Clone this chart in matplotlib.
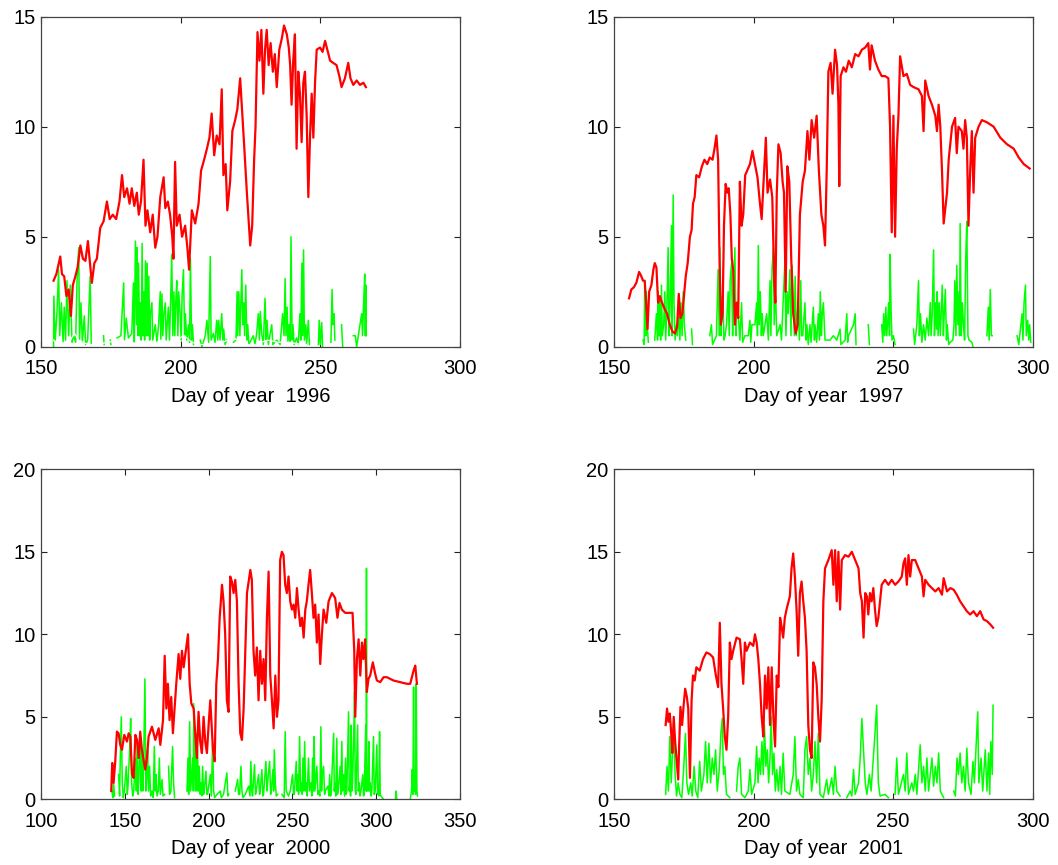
import matplotlib
matplotlib.use("Agg")
import matplotlib.pyplot as plt
import numpy as np

plt.rcParams['font.family'] = ['Liberation Sans', 'DejaVu Sans']

years = ["1996", "1997", "2000", "2001"]

# ---------------- 1996 ----------------
red_day_1996 = [154.5,155.5,156.9,157.5,158.3,159.1,159.9,160.7,161.4,162.3,163.1,164.1,165.0,165.9,166.8,167.4,168.2,169.1,170.0,171.2,172.4,173.6,174.6,175.7,176.9,178.1,179.0,179.8,180.8,181.7,182.5,183.4,184.3,185.0,185.8,186.7,187.4,188.1,189.1,190.0,190.9,191.7,192.7,193.9,194.5,195.4,196.2,197.0,197.4,198.0,198.6,199.6,200.5,201.6,202.4,203.0,204.0,205.2,206.4,207.3,208.4,209.4,210.3,211.1,212.0,212.9,213.9,214.7,215.3,216.1,216.7,217.7,218.5,219.5,220.3,221.3,222.1,222.8,223.7,224.3,224.9,225.6,226.3,226.8,227.5,228.2,228.9,229.6,230.2,230.8,231.5,232.2,233.0,233.7,234.4,235.3,236.2,237.0,238.0,238.7,239.2,239.7,240.3,240.9,241.5,242.1,242.7,243.3,243.9,244.5,245.1,245.7,246.3,246.9,247.5,248.1,248.7,249.9,250.8,251.7,252.5,253.5,254.6,255.8,256.8,257.6,258.8,260.0,260.8,261.8,263.0,264.2,265.4,266.3]
red_val_1996 = [3.0,3.3,4.1,3.3,3.2,2.3,2.6,1.4,2.8,3.2,3.6,4.6,4.0,3.9,4.8,4.0,2.9,3.8,4.0,5.4,5.7,6.6,5.8,6.0,5.8,6.6,7.8,6.8,7.2,6.5,7.2,6.4,7.0,6.0,6.6,8.5,5.5,6.2,5.2,6.0,4.5,5.0,6.8,7.7,6.3,6.6,6.0,5.0,4.0,8.4,5.5,6.0,5.0,5.5,4.5,3.5,6.2,5.6,6.5,8.0,8.5,9.0,9.5,10.6,8.7,9.6,9.2,11.7,7.8,8.3,6.2,7.5,9.8,10.3,10.8,12.2,10.5,9.0,7.0,5.8,4.6,5.5,8.5,10.0,14.3,13.0,14.4,11.5,13.5,14.4,12.8,13.8,12.5,13.3,11.8,13.5,14.0,14.6,14.2,13.6,12.8,11.0,13.0,14.2,9.0,12.5,11.5,9.3,12.0,12.5,10.5,6.8,9.5,11.5,9.5,12.0,13.5,13.6,13.4,13.9,13.5,13.0,12.9,12.8,12.3,11.8,12.2,12.9,12.2,11.9,12.1,11.9,12.0,11.8]
green_day_1996 = [154.5,154.6,155.1,155.7,156.3,156.7,157.3,157.9,158.3,158.8,159.3,159.9,160.5,161.1,161.7,162.4,162.9,163.5,163.8,164.3,164.8,165.5,166.0,166.7,167.6,168.0,172.4,172.6,174.8,175.0,177.2,178.6,179.6,179.9,180.5,181.3,182.5,183.1,183.4,183.8,184.2,184.4,184.7,184.9,185.3,185.6,185.9,186.2,186.5,186.8,187.1,187.4,187.7,188.0,188.3,188.6,188.9,189.2,189.7,190.0,190.9,191.5,192.1,192.7,192.9,193.3,193.6,194.0,194.5,194.8,195.6,196.0,196.4,196.8,197.2,197.6,197.9,198.3,198.6,199.0,199.3,199.8,200.2,200.5,201.0,201.4,201.7,202.2,202.8,203.2,203.5,203.9,204.2,204.6,207.0,207.6,208.8,209.4,210.0,210.6,210.9,211.7,212.3,212.9,213.3,213.6,214.1,214.7,215.1,215.4,215.9,216.5,218.9,219.8,220.2,220.4,220.8,221.2,221.9,222.2,222.6,222.9,223.3,223.7,224.0,224.4,226.0,226.6,227.2,227.8,228.2,228.5,229.0,229.6,230.2,230.6,230.9,231.4,232.6,233.0,234.4,235.6,236.5,237.0,237.4,237.7,238.1,238.4,238.8,239.2,239.5,239.9,240.2,240.6,241.5,242.1,242.7,243.0,243.4,243.7,244.0,244.3,244.8,245.1,245.7,246.1,249.3,249.6,250.0,250.5,250.8,253.8,254.2,254.5,254.9,255.2,257.6,258.0,261.8,262.5,263.0,264.8,265.1,265.5,265.9,266.1,266.3,266.4]
green_val_1996 = [0.0,2.3,0.3,1.5,3.5,0.5,2.0,0.2,1.8,0.3,3.0,0.5,2.8,0.2,0.5,0.2,3.0,4.5,0.3,2.0,0.2,1.4,0.1,0.3,3.2,0.1,0.5,0.1,0.3,0.1,0.4,0.5,2.9,0.3,1.3,0.4,0.6,2.9,0.2,4.8,1.0,4.5,0.5,3.8,0.5,2.0,0.3,4.7,0.5,2.5,0.3,3.9,0.5,3.8,0.5,3.2,0.3,1.5,2.0,0.3,1.0,0.2,1.0,2.5,0.3,2.4,0.5,1.5,2.0,0.3,1.8,0.3,2.0,4.2,0.5,2.5,0.5,2.2,3.0,0.5,2.5,1.5,0.3,2.3,3.5,0.5,1.5,0.3,1.0,0.2,4.0,0.3,1.0,0.1,0.3,0.0,0.5,1.2,0.2,4.1,0.3,0.6,0.2,1.2,0.3,1.2,0.3,1.5,0.3,0.8,0.1,0.3,0.2,0.3,2.5,0.5,2.5,0.5,3.5,1.0,2.0,0.5,2.8,0.3,1.0,0.1,0.5,0.1,0.6,1.5,0.3,1.6,0.6,0.1,2.2,0.3,1.2,0.1,1.0,0.1,0.3,0.1,1.5,0.5,3.1,0.5,1.8,0.2,1.0,0.2,5.0,0.3,1.0,0.1,0.4,0.1,1.5,0.3,3.8,0.5,4.4,0.3,1.0,0.1,1.2,0.1,0.1,1.2,0.1,1.1,0.0,0.2,2.6,1.0,1.5,0.3,1.0,0.0,0.5,0.5,0.0,1.5,0.5,2.0,3.3,0.5,2.8,0.5]
white_day_1996 = [154.5,156.0,157.5,159.0,160.5,162.0,163.5,165.0,167.0,170.0,174.0,178.0,182.0,186.0,190.0,193.0,195.5,198.0,201.3,204.0,207.0,211.0,215.0,219.0,223.0,227.0,231.0,235.0,239.0,243.0,245.0]
white_val_1996 = [0.3,0.1,0.2,0.1,0.3,0.6,0.3,0.2,0.1,0.1,0.2,0.3,0.2,0.1,0.1,0.3,0.2,0.3,0.5,0.2,0.1,0.1,0.2,0.4,0.1,0.1,0.3,0.2,0.2,0.1,0.1]

# ---------------- 1997 ----------------
red_day_1997 = [155.4,156.2,157.1,158.0,159.0,159.8,160.4,161.0,161.5,162.0,162.6,163.4,164.1,164.6,165.2,165.8,166.4,167.2,168.2,169.0,170.0,170.9,171.8,172.6,173.2,173.8,174.5,175.2,175.7,176.4,177.2,177.8,178.3,178.9,179.5,180.5,181.5,182.4,183.4,184.3,185.3,186.0,186.7,187.3,187.8,188.3,188.9,189.4,190.0,190.6,191.1,191.7,192.2,192.7,193.3,193.9,194.5,195.1,195.7,196.3,197.0,197.7,198.7,199.6,200.5,201.4,202.3,202.9,203.7,204.4,205.0,205.9,206.7,207.4,207.8,208.3,208.9,209.7,210.4,210.9,211.5,212.1,212.8,213.5,214.2,215.1,215.8,216.6,217.6,218.4,219.3,220.0,220.8,221.7,222.6,223.4,224.3,225.0,225.6,226.2,226.8,227.6,228.3,229.2,229.9,230.4,230.7,231.2,232.2,233.1,234.1,235.2,236.4,237.6,238.8,240.0,241.1,241.7,242.3,243.5,244.7,245.9,247.1,248.3,248.9,249.5,250.1,250.7,251.3,251.9,252.5,253.7,254.9,256.1,257.3,259.1,260.3,260.9,261.5,262.7,263.9,265.1,265.7,266.3,266.9,267.5,268.1,269.3,269.9,271.1,272.2,272.8,273.4,274.6,275.2,275.8,276.4,277.0,277.6,278.2,278.8,279.4,280.6,281.8,283.6,286.0,288.4,290.8,293.2,295.0,296.8,298.9]
red_val_1997 = [2.2,2.6,2.7,2.9,3.4,3.2,3.0,3.0,2.0,0.8,2.5,2.8,3.5,3.8,3.6,2.0,2.3,2.0,1.7,1.5,1.0,0.7,0.6,0.9,2.4,1.3,1.5,2.5,3.2,3.8,5.0,5.3,6.5,6.8,7.8,7.7,8.2,8.5,8.3,8.6,8.5,9.0,9.6,8.5,4.0,1.0,1.5,5.5,7.4,7.0,7.2,6.0,4.0,3.5,1.0,2.0,1.3,7.5,5.5,6.0,7.8,8.0,8.3,8.9,8.3,7.7,6.5,5.8,7.8,9.5,7.0,7.6,6.8,3.0,2.0,6.9,9.2,8.8,7.5,7.0,2.5,8.2,7.5,4.0,1.5,0.6,1.0,6.0,7.5,8.0,9.8,8.5,10.3,9.5,10.5,8.0,6.0,5.5,4.6,8.0,12.5,12.9,11.5,13.5,12.8,11.0,7.3,12.3,12.7,12.5,13.0,12.7,13.3,13.2,13.5,13.6,13.8,12.6,13.7,13.0,12.6,12.3,12.3,12.2,10.0,5.2,10.5,5.0,9.0,10.5,13.2,12.3,12.4,11.9,11.8,11.7,11.4,9.8,12.1,11.4,11.0,10.5,9.8,11.0,10.0,8.0,5.6,7.0,8.5,10.0,10.4,8.8,10.0,9.8,9.0,10.3,9.5,5.5,8.0,9.8,7.0,9.5,10.0,10.3,10.2,10.0,9.5,9.2,9.0,8.6,8.3,8.1]
green_day_1997 = [156.8,160.4,160.8,161.0,161.4,161.6,162.0,162.3,164.6,165.2,165.6,165.8,166.1,166.4,166.7,167.0,167.3,167.8,168.2,168.5,168.9,169.4,169.7,170.1,170.6,170.8,171.2,171.5,171.9,172.4,172.7,173.2,173.6,174.0,174.4,174.8,175.2,175.7,177.8,178.1,184.3,184.9,185.3,186.7,187.3,187.7,187.9,188.3,188.6,189.0,189.4,189.8,190.3,190.9,191.3,191.6,192.1,192.5,192.8,193.3,193.7,194.0,194.5,195.1,195.7,196.1,196.9,198.1,198.7,199.0,199.4,200.5,201.1,201.4,201.7,202.0,202.4,202.8,203.1,203.5,204.7,205.3,205.9,206.2,206.6,207.1,207.4,207.8,208.3,209.5,210.0,210.6,211.2,211.6,212.0,212.4,213.0,213.4,213.8,214.2,214.6,214.9,215.3,215.7,216.0,216.4,216.9,217.2,217.6,218.4,218.8,219.1,219.6,220.2,220.6,221.4,221.8,222.0,222.6,223.2,223.6,223.9,224.3,224.6,225.0,225.6,227.4,228.6,229.8,231.0,231.3,232.8,233.4,233.7,234.0,235.8,236.4,236.7,238.8,241.1,241.5,245.9,246.3,246.6,247.0,247.4,247.7,248.1,248.4,248.7,248.9,249.3,249.6,250.1,250.7,257.3,257.7,258.5,259.1,259.4,259.8,260.3,260.9,261.5,262.1,262.7,263.3,263.6,264.0,264.5,264.8,265.2,265.6,265.8,266.1,266.5,266.9,267.2,267.6,268.0,268.3,268.7,269.1,269.4,269.9,270.5,271.4,271.8,272.1,272.5,272.8,273.2,273.6,273.8,274.0,274.4,274.8,275.2,275.6,276.0,276.4,276.8,277.2,278.2,278.6,283.6,284.1,284.4,284.8,285.2,285.5,294.4,295.0,296.2,296.5,296.9,297.4,297.7,298.2,298.6,298.9,299.3]
green_val_1997 = [0.1,0.3,0.1,3.0,0.5,2.5,0.8,0.2,0.3,1.5,0.3,2.5,0.5,2.2,0.3,2.8,0.5,1.0,2.5,0.3,1.5,4.5,0.5,2.0,5.5,0.5,6.9,2.0,0.3,1.0,0.5,1.5,0.3,2.0,0.5,2.5,1.0,0.3,0.8,0.1,0.5,1.0,0.1,0.5,3.5,0.5,4.5,0.5,2.0,2.5,0.3,0.5,1.0,2.5,0.5,3.0,3.8,0.5,2.5,4.5,0.5,2.0,1.5,0.3,2.0,0.2,0.5,0.5,1.2,0.2,1.0,1.0,2.0,0.5,4.6,1.0,2.5,0.5,1.5,0.5,1.5,0.3,3.0,0.5,3.5,4.5,1.0,3.0,0.5,1.0,0.3,2.0,3.8,0.5,2.5,1.5,3.5,0.5,3.7,2.0,0.5,3.2,0.5,1.5,2.0,0.3,3.0,0.5,0.5,2.0,0.3,1.0,0.1,1.0,0.2,1.8,0.3,1.0,0.2,1.5,0.3,2.5,0.5,1.5,2.0,0.3,0.3,0.5,0.3,0.8,0.1,0.3,1.5,0.2,0.5,1.0,1.5,0.1,0.2,1.0,0.1,1.0,0.2,1.5,0.5,1.8,0.5,1.2,2.0,0.5,4.2,1.5,0.3,0.5,0.1,0.8,0.1,1.0,3.0,0.5,1.5,0.2,1.0,0.3,1.3,0.5,2.0,0.5,1.5,4.4,0.5,2.0,0.8,2.5,0.5,2.0,0.5,1.5,2.8,0.5,1.5,2.6,0.3,1.0,0.1,0.2,0.3,1.0,3.0,0.5,3.7,1.0,2.5,0.5,5.6,0.5,2.0,1.0,0.3,4.0,5.7,0.5,0.3,0.2,0.0,0.5,1.8,0.3,2.6,0.5,0.5,0.5,0.1,1.5,0.3,2.0,2.8,0.5,1.2,0.3,1.0,0.2]

# ---------------- 2000 ----------------
red_day_2000 = [141.9,142.5,143.3,144.3,145.3,146.3,147.3,148.3,149.7,151.3,152.3,153.3,154.3,155.3,156.3,157.3,158.3,159.2,160.2,162.2,163.2,164.2,166.2,168.2,170.2,171.2,172.8,173.8,174.8,175.7,176.7,177.7,178.7,179.7,180.7,182.1,183.1,184.1,185.1,186.7,187.7,188.7,189.7,191.1,192.0,193.0,194.0,195.0,196.0,197.0,198.0,199.0,200.0,201.0,202.6,203.6,204.6,205.6,206.6,208.0,208.9,209.9,210.9,211.9,212.9,213.9,214.9,215.9,216.9,217.9,218.9,219.9,220.9,221.9,222.9,223.9,224.9,225.8,226.8,227.8,228.8,229.8,230.8,231.8,232.8,233.8,234.8,235.8,236.8,237.8,238.8,239.8,240.8,241.7,242.7,243.7,244.7,245.7,246.7,247.7,248.7,249.7,250.7,251.7,252.7,253.7,254.7,255.7,256.7,257.7,258.6,259.6,260.6,261.6,262.6,263.6,264.6,265.6,266.6,267.6,268.6,270.2,271.6,273.6,275.5,276.9,278.1,279.5,281.5,283.5,285.9,286.9,287.5,288.5,289.5,290.5,291.5,292.4,293.4,294.4,295.4,296.4,298.0,299.4,300.4,302.4,304.4,306.4,308.3,310.3,314.3,318.3,320.3,322.3,323.3,324.3]
red_val_2000 = [0.5,2.2,1.0,2.3,4.1,4.0,3.3,3.0,3.9,3.5,4.0,3.8,1.5,1.3,3.9,3.6,2.5,4.1,3.0,1.8,2.5,3.8,4.4,3.6,4.3,3.3,4.8,8.7,5.5,7.0,4.8,6.2,4.0,5.5,7.0,8.8,7.3,9.0,8.0,9.2,10.0,7.0,5.8,5.5,4.0,2.5,5.3,3.5,2.8,5.0,3.5,2.8,4.5,6.0,3.0,2.3,7.0,8.5,11.0,13.0,12.0,10.0,6.0,5.3,13.5,13.2,12.5,13.3,12.0,7.0,4.0,3.6,5.5,9.0,12.5,13.2,13.9,13.3,9.0,7.5,9.2,6.0,9.0,7.0,8.5,6.0,11.0,13.8,7.5,6.0,4.3,7.5,5.0,6.0,14.5,15.0,14.8,13.0,12.5,13.5,12.0,11.5,11.8,11.0,12.8,11.5,10.5,11.0,9.8,11.5,12.0,13.0,13.9,12.5,11.0,11.8,9.5,11.2,8.2,10.0,11.5,10.7,12.0,12.5,12.2,11.0,11.9,11.5,11.3,11.3,11.3,9.0,5.0,8.5,9.7,7.5,9.5,8.5,9.7,6.5,7.3,7.5,8.3,7.6,7.2,7.1,7.4,7.4,7.3,7.2,7.1,7.0,7.0,7.8,8.1,7.0]
green_day_2000 = [142.3,142.9,143.3,143.9,146.3,146.9,147.3,147.9,148.5,149.1,149.7,150.9,151.5,151.9,152.9,153.5,154.1,154.7,155.3,156.3,156.9,157.3,157.9,158.3,159.2,159.8,160.2,160.8,161.2,162.0,162.6,163.2,163.6,164.2,164.8,165.4,166.2,167.0,167.6,168.2,168.6,169.2,170.0,170.6,171.2,172.2,172.8,173.8,176.1,176.7,177.5,178.5,179.1,179.7,183.1,187.1,187.7,188.1,188.7,189.3,189.9,190.5,190.9,191.1,191.7,192.0,192.6,193.0,193.4,194.0,194.4,195.0,195.4,196.0,196.4,197.0,197.4,198.4,199.0,199.4,201.0,201.6,202.4,203.0,203.6,205.0,207.0,207.6,208.9,210.9,211.5,211.9,215.9,217.3,217.9,218.5,219.3,219.9,220.5,221.9,223.9,224.7,225.2,225.8,226.2,227.4,228.0,228.4,229.8,230.4,230.8,231.8,232.4,232.8,234.2,234.8,235.2,236.4,237.0,237.4,238.4,238.8,239.2,239.8,240.4,241.2,243.7,245.1,245.7,246.3,247.7,248.7,250.1,250.7,251.1,252.3,252.7,253.3,253.7,254.3,254.9,255.3,255.9,256.3,256.9,257.3,257.9,258.3,258.8,259.6,260.2,261.0,261.6,262.0,262.6,263.0,263.4,263.8,264.6,265.2,265.6,266.4,267.0,267.4,267.8,268.6,269.2,269.6,271.2,271.8,272.2,272.8,273.2,274.6,275.0,275.3,275.9,276.5,276.9,277.3,278.5,278.9,279.5,279.9,280.5,281.1,281.7,282.1,282.5,283.5,283.9,284.3,284.7,285.1,285.5,285.9,286.5,287.1,287.5,287.9,288.9,289.3,289.9,290.3,290.9,292.0,292.4,292.8,293.8,294.0,294.2,294.4,294.8,295.2,295.6,296.0,296.4,297.0,297.4,298.4,298.8,299.4,300.4,300.8,301.2,301.6,302.0,302.4,302.8,304.4,311.5,311.8,312.3,320.3,320.7,321.1,321.5,321.9,322.3,322.7,323.1,323.5,323.9,324.3,324.6]
green_val_2000 = [0.5,0.1,1.0,0.2,1.5,0.2,2.5,5.0,1.0,0.1,0.5,2.0,0.3,0.8,3.0,4.9,1.0,0.2,0.5,2.5,0.5,3.5,0.3,1.0,4.0,0.5,3.0,0.5,2.0,7.3,0.5,1.5,3.0,0.5,2.0,0.2,0.5,0.1,3.2,0.5,1.5,0.2,0.5,2.5,0.3,1.2,0.2,0.3,2.0,0.3,0.5,3.2,1.0,0.1,0.1,0.5,2.5,0.3,4.7,0.5,1.5,2.5,0.5,5.8,2.0,0.5,4.0,0.5,3.0,0.5,2.0,0.3,1.0,0.2,2.0,0.3,0.5,1.7,0.3,0.3,1.5,0.2,3.4,0.5,0.1,0.3,0.5,0.1,0.3,1.6,0.2,0.3,0.5,1.2,0.3,0.3,2.0,0.5,0.1,0.3,0.8,0.2,2.3,0.5,0.2,2.1,0.3,0.5,1.5,0.3,0.5,1.8,0.2,0.3,2.3,0.5,1.0,2.3,0.3,0.5,1.8,0.5,3.0,1.0,0.2,0.3,0.3,0.1,4.1,0.5,0.2,0.5,1.5,0.3,0.3,2.3,0.5,1.5,0.3,3.8,0.5,1.0,0.3,2.5,0.5,3.5,0.5,1.0,0.2,2.5,0.5,1.0,0.2,2.5,0.5,3.8,0.5,1.0,2.0,0.3,0.5,0.2,4.4,0.5,1.5,2.0,0.3,0.5,0.8,0.2,1.5,0.2,0.5,4.0,0.5,1.0,0.2,3.7,0.3,0.5,2.0,0.3,3.5,0.5,1.5,0.2,2.5,0.3,0.5,5.3,0.5,1.0,0.2,4.5,0.5,1.0,3.5,6.5,0.5,0.3,4.5,0.5,1.0,0.2,0.5,1.5,0.2,0.3,4.5,0.5,14.0,0.5,2.0,0.5,3.5,0.5,1.0,0.2,0.5,3.8,0.3,0.5,3.3,0.3,0.8,0.2,4.1,0.3,0.2,0.0,0.0,0.5,0.0,0.0,0.3,0.5,1.8,0.3,6.8,0.5,1.0,0.3,7.0,0.5,0.2]

# ---------------- 2001 ----------------
red_day_2001 = [168.5,169.0,169.5,170.0,170.5,170.9,171.4,171.9,172.5,173.0,173.3,173.8,174.4,175.0,175.5,176.1,176.6,177.2,177.8,178.3,178.9,179.5,180.7,181.9,183.1,184.3,185.5,186.5,187.3,187.9,188.5,189.1,189.7,190.3,190.9,191.5,192.1,192.7,193.9,195.1,195.7,196.3,196.9,197.5,198.7,199.9,200.5,201.1,201.7,202.3,202.9,203.5,204.1,204.7,205.3,205.9,206.5,207.1,207.7,208.3,208.9,209.5,210.0,210.6,211.2,211.8,213.0,213.6,214.2,214.8,215.4,216.0,216.6,217.2,217.8,218.4,219.0,219.6,220.2,220.8,221.4,222.0,222.6,223.2,223.8,224.4,225.0,225.6,226.8,228.0,228.6,229.2,229.8,230.4,231.0,231.6,232.8,234.0,235.2,236.4,237.6,238.2,238.8,239.4,240.0,240.6,241.1,241.7,242.3,242.9,243.5,244.1,244.7,245.3,245.9,247.1,248.3,249.5,250.7,251.9,253.1,253.7,254.3,254.9,255.5,256.1,256.7,257.9,259.1,260.3,260.9,261.5,262.7,263.9,265.1,266.3,267.5,268.1,269.3,270.5,271.7,272.8,274.0,275.2,276.4,277.6,278.8,280.0,281.2,282.4,283.6,284.8,285.8]
red_val_2001 = [4.5,5.5,4.7,5.2,4.0,2.8,5.0,3.5,2.2,1.2,3.0,5.6,4.5,5.8,6.7,6.2,5.5,1.3,6.0,7.5,7.2,8.0,7.8,8.5,8.9,8.8,8.6,7.5,6.8,10.7,7.0,5.5,3.8,3.0,5.0,9.5,8.5,9.0,9.8,9.7,8.5,7.0,9.5,9.0,9.5,9.3,10.0,9.5,8.5,7.0,5.0,3.8,7.5,5.5,8.0,4.5,8.0,5.0,3.2,7.5,6.8,11.0,10.5,9.8,11.0,11.5,12.3,14.0,14.9,13.5,11.5,8.7,12.5,13.2,12.0,11.0,9.0,4.5,3.0,2.5,8.3,8.0,7.0,5.0,3.5,6.0,12.0,14.0,14.5,15.1,13.0,15.1,12.0,15.0,11.5,14.5,14.8,14.7,15.0,14.5,14.0,12.5,12.0,9.8,12.5,12.3,11.2,12.5,12.0,12.8,11.5,10.5,11.0,12.0,13.0,13.3,13.0,13.3,13.0,13.2,13.5,14.3,14.6,13.0,14.8,13.5,14.5,14.5,14.0,13.5,12.3,13.3,13.0,12.8,12.6,12.8,12.4,13.4,12.6,12.8,12.7,12.4,12.0,11.7,11.4,11.2,11.4,11.1,11.4,10.9,10.8,10.6,10.4]
green_day_2001 = [168.5,169.0,169.5,170.0,170.5,170.9,171.4,171.9,172.4,173.0,173.6,174.3,175.0,175.6,176.1,176.7,177.5,178.0,178.7,179.3,180.0,180.7,181.3,182.2,182.8,183.4,184.0,184.6,185.2,185.8,186.4,187.0,187.7,188.3,188.8,189.2,189.7,190.3,191.5,193.9,194.5,195.1,195.7,196.9,198.1,198.7,199.3,200.5,201.1,201.6,202.0,202.5,203.0,203.5,203.9,204.4,204.9,205.4,205.9,206.3,206.8,207.3,207.8,208.3,208.9,209.5,210.0,210.6,211.2,213.0,214.2,214.8,215.4,216.0,216.6,217.8,218.4,219.0,219.6,220.2,220.8,221.4,222.0,222.6,223.2,223.8,225.0,226.2,226.8,228.0,228.6,229.2,229.8,231.0,233.4,234.6,235.2,235.8,236.4,237.6,238.2,238.8,239.4,240.0,240.6,241.5,242.1,242.9,243.5,244.1,244.7,245.3,247.1,248.3,250.7,251.3,251.9,253.7,254.3,254.9,255.5,256.7,257.3,257.9,258.5,259.7,260.3,260.9,261.5,262.1,262.7,263.3,263.9,264.5,265.1,265.7,266.3,266.9,268.1,271.7,272.3,272.9,273.4,274.0,274.6,275.2,275.8,276.4,277.0,277.9,278.6,279.1,279.8,280.3,280.7,281.5,282.1,283.0,283.6,284.2,284.6,285.0,285.5,285.8]
green_val_2001 = [0.3,2.0,0.5,3.8,1.0,2.5,4.5,1.5,0.2,1.0,0.3,0.1,2.0,4.0,1.0,0.3,1.0,0.2,2.0,0.5,0.1,2.3,0.5,1.5,3.5,1.0,3.4,1.0,2.5,1.5,3.0,0.5,1.8,4.0,4.9,1.5,2.0,0.3,0.1,0.5,2.0,2.5,0.3,0.1,0.5,1.8,0.3,1.0,3.2,1.0,2.5,1.5,3.5,1.5,4.5,2.0,3.0,1.0,2.5,5.0,1.5,2.8,0.5,1.8,0.5,2.0,0.3,2.8,0.5,0.3,1.5,3.8,0.5,1.2,0.3,0.1,3.0,3.8,1.5,2.5,0.5,1.5,3.5,1.0,4.0,0.3,0.1,1.2,0.3,1.3,0.3,2.0,0.5,0.2,0.1,0.5,0.2,1.8,0.3,1.0,2.5,4.9,3.0,1.0,0.3,1.5,0.5,2.5,4.0,5.7,1.0,0.2,0.3,0.1,0.3,2.5,0.3,1.5,0.5,2.8,0.3,1.0,0.5,1.5,0.3,3.3,1.0,2.0,0.5,2.5,0.5,1.5,2.5,0.8,2.0,1.0,2.8,0.5,0.1,0.5,0.2,2.5,1.5,2.8,1.0,2.0,0.5,3.1,1.0,0.3,2.3,1.0,3.5,5.3,1.0,2.5,0.5,3.0,0.5,2.8,0.3,3.5,1.5,5.7]

# axis settings per panel
xlims = [(150, 300), (150, 300), (100, 350), (150, 300)]
ylims = [(0, 15), (0, 15), (0, 20), (0, 20)]
xticks = [[150, 200, 250, 300], [150, 200, 250, 300], [100, 150, 200, 250, 300, 350], [150, 200, 250, 300]]
yticks = [[0, 5, 10, 15], [0, 5, 10, 15], [0, 5, 10, 15, 20], [0, 5, 10, 15, 20]]

reds = [(red_day_1996, red_val_1996), (red_day_1997, red_val_1997),
        (red_day_2000, red_val_2000), (red_day_2001, red_val_2001)]
greens = [(green_day_1996, green_val_1996), (green_day_1997, green_val_1997),
          (green_day_2000, green_val_2000), (green_day_2001, green_val_2001)]


def with_gaps(days, vals, max_gap=2.0):
    """Break the line (NaN) where the record has a long gap, as in the original."""
    d = np.asarray(days, float)
    v = np.asarray(vals, float)
    out_d, out_v = [d[0]], [v[0]]
    for k in range(1, len(d)):
        if d[k] - d[k - 1] > max_gap:
            out_d.append(np.nan)
            out_v.append(np.nan)
        out_d.append(d[k])
        out_v.append(v[k])
    return out_d, out_v


W, H = 1058, 865
fig = plt.figure(figsize=(W / 100, H / 100), dpi=100)
fig.patch.set_facecolor('white')

# axes boxes in pixels: left, top, right, bottom
boxes = [(41, 16.7, 460, 346.7), (614, 16.7, 1032.7, 346.7),
         (41, 469.3, 460, 799.3), (614, 469.3, 1032.7, 799.3)]

for i in range(4):
    l, t, r, b = boxes[i]
    ax = fig.add_axes([l / W, 1 - b / H, (r - l) / W, (b - t) / H])
    gd, gv = with_gaps(*greens[i])
    rd, rv = reds[i]
    ax.plot(gd, gv, color='#00ff00', lw=1.1, zorder=2)
    ax.plot(rd, rv, color='#ff0000', lw=1.6, zorder=3)
    if i == 0:
        ax.plot(white_day_1996, white_val_1996, color='white', lw=0.9, zorder=4)
    ax.set_xlim(*xlims[i])
    ax.set_ylim(*ylims[i])
    ax.set_xticks(xticks[i])
    ax.set_yticks(yticks[i])
    ax.tick_params(direction='in', top=True, right=True, length=4, width=0.8,
                   labelsize=14.5, colors='#222222', labelcolor='black')
    ax.tick_params(axis='x', pad=9)
    ax.tick_params(axis='y', pad=4)
    for s in ax.spines.values():
        s.set_linewidth(0.9)
        s.set_color('#444444')
    ax.set_xlabel('Day of year  ' + years[i], fontsize=14.5, labelpad=6)

fig.savefig('out.png', dpi=100, facecolor='white')
